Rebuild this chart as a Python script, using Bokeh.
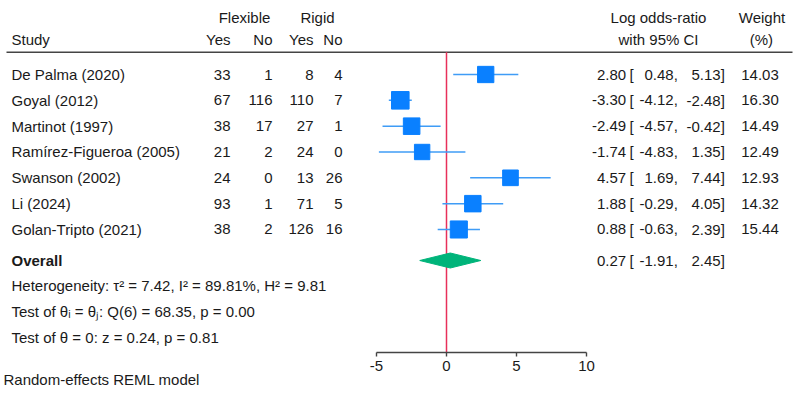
from bokeh.plotting import figure
from bokeh.models import Range1d, LinearAxis, FixedTicker
from bokeh.core.properties import value
from bokeh.embed import file_html
from bokeh.resources import INLINE

# ---------------- data ----------------
studies = ["De Palma (2020)", "Goyal (2012)", "Martinot (1997)",
           "Ramírez-Figueroa (2005)", "Swanson (2002)", "Li (2024)",
           "Golan-Tripto (2021)"]
flex_yes = [33, 67, 38, 21, 24, 93, 38]
flex_no = [1, 116, 17, 2, 0, 1, 2]
rigid_yes = [8, 110, 27, 24, 13, 71, 126]
rigid_no = [4, 7, 1, 0, 26, 5, 16]
log_or = [2.80, -3.30, -2.49, -1.74, 4.57, 1.88, 0.88]
ci_low = [0.48, -4.12, -4.57, -4.83, 1.69, -0.29, -0.63]
ci_high = [5.13, -2.48, -0.42, 1.35, 7.44, 4.05, 2.39]
weights = [14.03, 16.30, 14.49, 12.49, 12.93, 14.32, 15.44]
overall_est = 0.27
overall_low = -1.91
overall_high = 2.45
axis_ticks = [-5, 0, 5, 10]
stats_lines = ["Heterogeneity: τ² = 7.42, I² = 89.81%, H² = 9.81",
               "Test of θᵢ = θⱼ: Q(6) = 68.35, p = 0.00",
               "Test of θ = 0: z = 0.24, p = 0.81"]
footnote = "Random-effects REML model"

# ---------------- layout ----------------
W, H = 799, 409
ZERO_PX = 446.0   # screen x of log-OR 0
UNIT = 14.0       # px per log-OR unit
FONT = value("Liberation Sans")
FS = "15px"
TXT = "#1a1a1a"
BLUE = "#0a80ff"
CI_BLUE = "#3f9cf6"
RED = "#e8305a"
GREEN = "#00b47a"


def X(px):
    return (px - ZERO_PX) / UNIT


p = figure(width=W, height=H, output_backend="svg", toolbar_location=None,
           x_axis_location=None, y_axis_location=None,
           x_range=Range1d(X(0), X(W)), y_range=Range1d(H, 0),
           min_border=0, outline_line_color=None)
p.grid.visible = False

row0, step = 74.0, 25.83
rows = [row0 + i * step for i in range(len(studies))]
y_over = 260.0
y_head1, y_head2 = 17.0, 39.0
y_rule = 51.7
y_axis = 352.3


def txt(xs, ys, texts, align="left", style="normal"):
    p.text(x=xs, y=ys, text=texts, text_align=align, text_baseline="middle",
           text_font=FONT, text_font_size=FS, text_color=TXT,
           text_font_style=style)


# headers
txt([X(11)], [y_head2], ["Study"])
txt([X(244), X(317)], [y_head1, y_head1], ["Flexible", "Rigid"], align="center")
txt([X(230), X(272), X(313), X(342)], [y_head2] * 4, ["Yes", "No", "Yes", "No"], align="right")
txt([X(658), X(658)], [y_head1, y_head2], ["Log odds-ratio", "with 95% CI"], align="center")
txt([X(761.5), X(760.8)], [y_head1, y_head2], ["Weight", "(%)"], align="center")
p.line(x=[X(6), X(792)], y=[y_rule, y_rule], line_color="#444444", line_width=1.5)

# null line
p.line(x=[0, 0], y=[y_rule, y_axis], line_color=RED, line_width=1.5)

# study rows
txt([X(11)] * len(rows), rows, studies)
txt([X(230)] * len(rows), rows, [str(v) for v in flex_yes], align="right")
txt([X(272)] * len(rows), rows, [str(v) for v in flex_no], align="right")
txt([X(313)] * len(rows), rows, [str(v) for v in rigid_yes], align="right")
txt([X(342)] * len(rows), rows, [str(v) for v in rigid_no], align="right")

p.segment(x0=ci_low, x1=ci_high, y0=rows, y1=rows, line_color=CI_BLUE, line_width=1.5)
sizes = [16.3 * (w / 14.03) ** 0.5 for w in weights]
p.scatter(x=log_or, y=rows, size=sizes, marker="square",
          fill_color=BLUE, line_color=BLUE)

txt([X(625.7)] * len(rows), rows, [f"{v:.2f}" for v in log_or], align="right")
txt([X(629)] * len(rows), rows, ["["] * len(rows))
txt([X(677.3)] * len(rows), rows, [f"{v:.2f}," for v in ci_low], align="right")
txt([X(724.3)] * len(rows), rows, [f"{v:.2f}]" for v in ci_high], align="right")
txt([X(778.3)] * len(rows), rows, [f"{v:.2f}" for v in weights], align="right")

# overall
txt([X(11)], [y_over], ["Overall"], style="bold")
half_h = 7.5
p.patch(x=[overall_low, overall_est, overall_high, overall_est],
        y=[y_over, y_over - half_h, y_over, y_over + half_h],
        fill_color=GREEN, line_color=GREEN)
txt([X(625.7)], [y_over], [f"{overall_est:.2f}"], align="right")
txt([X(629)], [y_over], ["["])
txt([X(677.3)], [y_over], [f"{overall_low:.2f},"], align="right")
txt([X(724.3)], [y_over], [f"{overall_high:.2f}]"], align="right")

# statistics
stat_y = [285.0, 311.0, 337.0]
txt([X(11)] * 3, stat_y, stats_lines)
txt([X(3)], [379.0], [footnote])

# axis
ax = LinearAxis(fixed_location=y_axis, bounds=(axis_ticks[0], axis_ticks[-1]),
                ticker=FixedTicker(ticks=axis_ticks))
ax.major_label_overrides = {t: str(t) for t in axis_ticks}
ax.major_tick_in = 0
ax.major_tick_out = 4
ax.minor_tick_in = 0
ax.minor_tick_out = 0
ax.axis_line_color = "#444444"
ax.axis_line_width = 1.4
ax.major_tick_line_color = "#444444"
ax.major_tick_line_width = 1.4
ax.major_label_text_font = "Liberation Sans"
ax.major_label_text_font_size = FS
ax.major_label_text_color = TXT
ax.major_label_standoff = 4
p.add_layout(ax, "below")

open("out.html", "w").write(file_html(p, INLINE))
